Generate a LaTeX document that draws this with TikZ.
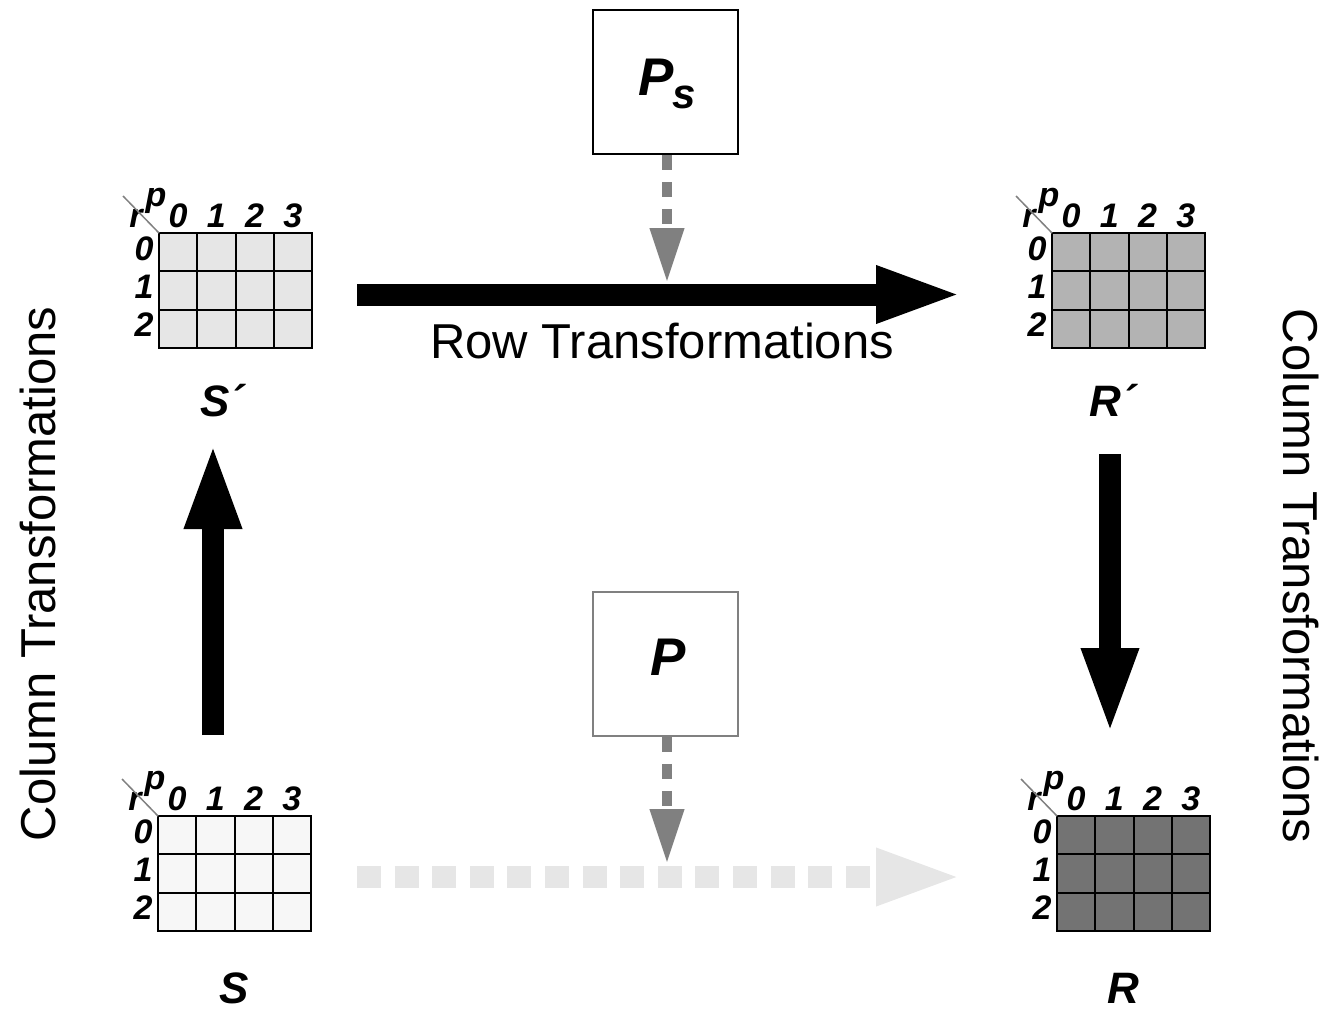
\documentclass[tikz,border=0pt]{standalone}
\usepackage{fontspec}
\setmainfont{Liberation Sans}
\usetikzlibrary{arrows.meta}
\definecolor{midgray}{HTML}{808080}
\definecolor{dashgray}{HTML}{E6E6E6}
\definecolor{fillS}{HTML}{F7F7F7}
\definecolor{fillSp}{HTML}{E6E6E6}
\definecolor{fillRp}{HTML}{B3B3B3}
\definecolor{fillR}{HTML}{737373}
\newcommand{\mygrid}[4]{%
  \node[gridbox, fill=#3, anchor=north west] (#4) at (#1,#2) {};
  \foreach \c in {1,2,3} \draw[cellline] ({#1+\c*38.25},#2) -- ({#1+\c*38.25},{#2+115});
  \foreach \r in {1,2} \draw[cellline] (#1,{#2+\r*38.33}) -- ({#1+153},{#2+\r*38.33});
  \draw[cellline] (#1,#2) rectangle ({#1+153},{#2+115});
  \foreach \c in {0,1,2,3} \node[idx, anchor=base] at ({#1+19.1+\c*38.25},{#2-6}) {\c};
  \foreach \r in {0,1,2} \node[idx, anchor=base] at ({#1-15},{#2+27+\r*38.33}) {\r};
  \node[idx, anchor=base] at ({#1-3},{#2-27}) {p};
  \node[idx, anchor=base] at ({#1-23},{#2-6}) {r};
  \draw[midgray, line width=1.5pt] ({#1-36},{#2-37}) -- (#1,#2);
}
\begin{document}
\begin{tikzpicture}[x=1pt,y=-1pt,
  idx/.style={font=\fontsize{34}{34}\selectfont\bfseries\itshape, inner sep=0pt},
  lbl/.style={font=\fontsize{44}{44}\selectfont\bfseries\itshape, inner sep=0pt},
  caption/.style={font=\fontsize{49}{49}\selectfont, inner sep=0pt},
  gridbox/.style={draw=none, minimum width=153pt, minimum height=115pt, inner sep=0pt},
  cellline/.style={line width=2pt, black},
  pbox/.style={minimum width=145pt, minimum height=144pt, inner sep=0pt, fill=white},
  bigarrow/.style={line width=22pt, -{Triangle[width=51pt,length=88pt]}},
  smallarrow/.style={line width=10pt, midgray, dash pattern=on 15pt off 12pt, -{Triangle[width=32pt,length=55pt]}},
]
\useasboundingbox (0,0) rectangle (1327,1010);

% grids
\mygrid{159}{233}{fillSp}{Sp}
\mygrid{1052}{233}{fillRp}{Rp}
\mygrid{158}{816}{fillS}{S}
\mygrid{1057}{816}{fillR}{R}

% grid labels
\node[lbl, anchor=base] (Splbl) at (222,416) {S´};
\node[lbl, anchor=base] (Rplbl) at (1113,416) {R´};
\node[lbl, anchor=base] (Slbl) at (234,1003) {S};
\node[lbl, anchor=base] (Rlbl) at (1123,1003) {R};

% permutation boxes
\node[pbox, draw=black, line width=2pt] (Ps) at (665.5,82) {};
\node[anchor=base west, inner sep=0pt, font=\fontsize{53}{53}\selectfont\bfseries\itshape] (PsP) at (638,95) {P};
\node[anchor=base west, inner sep=0pt, font=\fontsize{42}{42}\selectfont\bfseries\itshape] (Pss) at (672,108) {s};
\node[pbox, draw=midgray, line width=1.5pt] (P) at (665.5,664) {};
\node[anchor=base, inner sep=0pt, font=\fontsize{53}{53}\selectfont\bfseries\itshape] (PP) at (668,675) {P};

% connector end points
\coordinate (rowA) at (357,294.5);
\coordinate (rowB) at (964,294.5);
\coordinate (botA) at (357,877);
\coordinate (botB) at (964,877);
\coordinate (upA) at (213,735);
\coordinate (upB) at (213,441);
\coordinate (dnA) at (1110,454);
\coordinate (dnB) at (1110,736);
\coordinate (psB) at (667,283);
\coordinate (pB) at (667,864);

% arrows
\draw[bigarrow] (rowA) -- (rowB);
\draw[bigarrow, dashgray, dash pattern=on 24pt off 13.6pt] (botA) -- (botB);
\draw[bigarrow] (upA) -- (upB);
\draw[bigarrow] (dnA) -- (dnB);
\draw[smallarrow] (Ps.south -| psB) -- (psB);
\draw[smallarrow] (P.south -| pB) -- (pB);

% captions
\node[caption, anchor=base] (rowcap) at (662,358) {Row Transformations};
\node[caption, anchor=base, rotate=90] (leftcap) at (55,574) {Column Transformations};
\node[caption, anchor=base, rotate=-90] (rightcap) at (1283,576) {Column Transformations};
\end{tikzpicture}
\end{document}
